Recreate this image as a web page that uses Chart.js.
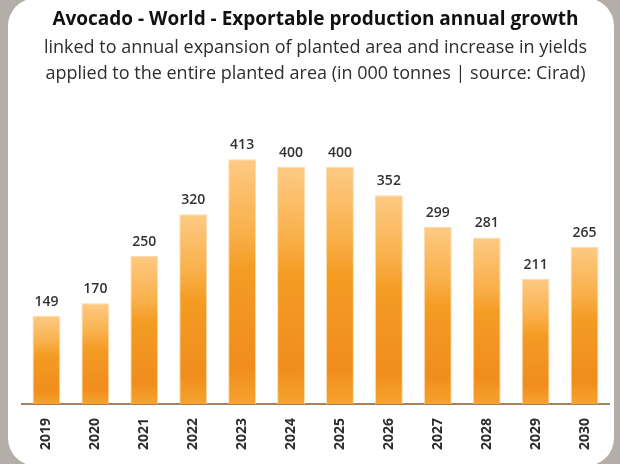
<!DOCTYPE html>
<html>
<head>
<meta charset="utf-8">
<script src="https://cdn.jsdelivr.net/npm/chart.js@4.4.1/dist/chart.umd.min.js"></script>
<style>
	html, body { margin: 0; padding: 0; }
	body { width: 620px; height: 464px; background: #b4aea8; position: relative; overflow: hidden; }
	#panel { position: absolute; left: 8px; top: -2px; width: 606px; height: 468px; background: #fff; border-radius: 28px; }
	#wrap { position: absolute; left: 0; top: 0; width: 620px; height: 464px; }
</style>
</head>
<body>
<div id="panel"></div>
<div id="wrap"><canvas id="avocadoChart"></canvas></div>
<script>
const years = ['2019', '2020', '2021', '2022', '2023', '2024', '2025', '2026', '2027', '2028', '2029', '2030'];
const exportable = [149, 170, 250, 320, 413, 400, 400, 352, 299, 281, 211, 265];
const titleText = 'Avocado - World - Exportable production annual growth';
const subtitleLines = [
	'linked to annual expansion of planted area and increase in yields',
	'applied to the entire planted area (in 000 tonnes | source: Cirad)'
];

const fontFamily = '"Open Sans", "Noto Sans", sans-serif';

function barGradient(context) {
	const chart = context.chart;
	const { ctx, chartArea, scales } = chart;
	if (!chartArea) return '#f39a22';
	const yTop = scales.y.getPixelForValue(context.raw);
	const yBottom = scales.y.getPixelForValue(0);
	const gradient = ctx.createLinearGradient(0, yTop, 0, yBottom);
	gradient.addColorStop(0, '#fdca84');
	gradient.addColorStop(0.3, '#f9b04a');
	gradient.addColorStop(0.45, '#f49c24');
	gradient.addColorStop(0.85, '#f08d1d');
	gradient.addColorStop(1, '#f6a32e');
	return gradient;
}

// value labels above every bar
const valueLabels = {
	id: 'valueLabels',
	afterDatasetsDraw(chart) {
		const ctx = chart.ctx;
		const meta = chart.getDatasetMeta(0);
		ctx.save();
		ctx.font = '600 14px ' + fontFamily;
		ctx.fillStyle = '#333333';
		ctx.textAlign = 'center';
		ctx.textBaseline = 'alphabetic';
		meta.data.forEach((bar, i) => {
			ctx.fillText(String(exportable[i]), bar.x, bar.y - 10);
		});
		ctx.restore();
	}
};

const ctx = document.getElementById('avocadoChart').getContext('2d');
const chart = new Chart(ctx, {
	type: 'bar',
	data: {
		labels: years,
		datasets: [{
			data: exportable,
			backgroundColor: barGradient,
			borderColor: 'rgba(253, 214, 160, 0.9)',
			borderWidth: 1,
			borderSkipped: 'bottom',
			categoryPercentage: 1,
			barPercentage: 0.57
		}]
	},
	options: {
		responsive: true,
		maintainAspectRatio: false,
		animation: false,
		layout: {
			padding: { left: 22, right: 11, top: 0, bottom: 8 }
		},
		plugins: {
			legend: { display: false },
			tooltip: { enabled: false },
			title: {
				display: true,
				text: titleText,
				color: '#111111',
				font: { family: fontFamily, size: 19, weight: 'bold', lineHeight: 1.2 },
				padding: { top: 8, bottom: 4 }
			},
			subtitle: {
				display: true,
				text: subtitleLines,
				color: '#2e2e2e',
				font: { family: fontFamily, size: 18, lineHeight: 1.45 },
				padding: { top: 0, bottom: 20 }
			}
		},
		scales: {
			x: {
				grid: { display: false },
				border: { display: true, color: '#a57f5f', width: 2 },
				ticks: {
					color: '#2e2e2e',
					font: { family: fontFamily, size: 14, weight: 'bold' },
					minRotation: 90,
					maxRotation: 90,
					padding: 6
				}
			},
			y: {
				display: false,
				min: 0,
				max: 501
			}
		}
	},
	plugins: [valueLabels]
});
</script>
</body>
</html>
